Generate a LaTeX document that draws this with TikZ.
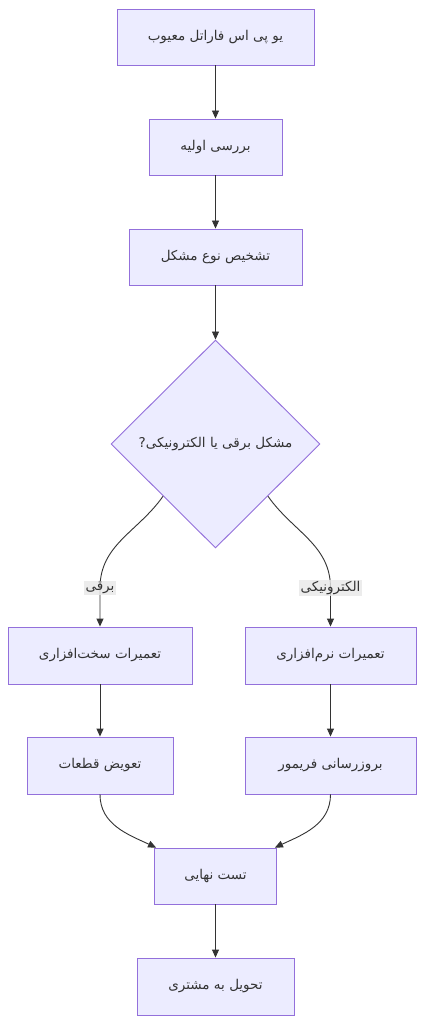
\documentclass[tikz,border=0pt]{standalone}
\usepackage{fontspec}
\newfontfamily\arabicfont[Script=Arabic]{DejaVu Sans}
\TeXXeTstate=1
\usetikzlibrary{arrows.meta}
\usetikzlibrary{shapes.geometric}

\definecolor{boxfill}{HTML}{ECECFF}
\definecolor{boxline}{HTML}{9370DB}
\definecolor{arrline}{HTML}{333333}
\definecolor{labfill}{HTML}{E8E8E8}

\newcommand{\fatext}[1]{\arabicfont\beginR #1\endR}

\begin{document}
\begin{tikzpicture}[x=1pt,y=-1pt,
    box/.style={draw=boxline,fill=boxfill,line width=0.9pt,minimum height=56pt,inner sep=0pt,text=arrline,font=\fontsize{13.5}{16}\selectfont},
    decide/.style={diamond,aspect=1,draw=boxline,fill=boxfill,line width=0.9pt,minimum width=209pt,minimum height=208pt,inner sep=0pt,text=arrline,font=\fontsize{13.5}{16}\selectfont},
    lab/.style={fill=labfill,fill opacity=0.8,text opacity=1,inner sep=1.5pt,text=arrline,font=\fontsize{13.5}{16}\selectfont},
    arr/.style={draw=arrline,line width=0.9pt,-{Triangle[length=8pt,width=7pt]}}]

    % page
    \fill[white] (0,0) rectangle (425,1024);
    \useasboundingbox (0,0) rectangle (425,1024);

    % main line
    \node[box,minimum width=197pt] (ups) at (215.5,37) {\fatext{یو پی اس فاراتل معیوب}};
    \node[box,minimum width=133pt] (check) at (215.5,147) {\fatext{بررسی اولیه}};
    \node[box,minimum width=173pt] (kind) at (215.5,257) {\fatext{تشخیص نوع مشکل}};
    \node[decide] (dec) at (215.5,444) {\fatext{مشکل برقی یا الکترونیکی?}};

    % two branches
    \node[box,minimum width=184pt,minimum height=57pt] (hw) at (100,655.5) {\fatext{تعمیرات سخت‌افزاری}};
    \node[box,minimum width=171pt,minimum height=57pt] (sw) at (330.5,655.5) {\fatext{تعمیرات نرم‌افزاری}};
    \node[box,minimum width=146pt,minimum height=57pt] (parts) at (100,765.5) {\fatext{تعویض قطعات}};
    \node[box,minimum width=171pt,minimum height=57pt] (fw) at (330.5,765.5) {\fatext{بروزرسانی فریمور}};

    % end
    \node[box,minimum width=122pt] (test) at (215.5,876) {\fatext{تست نهایی}};
    \node[box,minimum width=157pt,minimum height=57pt] (deliver) at (215.5,986.5) {\fatext{تحویل به مشتری}};

    % label points
    \coordinate (elec) at (100,588);
    \coordinate (tron) at (330.5,588);

    % arrows
    \draw[arr] (ups) -- (check);
    \draw[arr] (check) -- (kind);
    \draw[arr] (kind) -- (dec);
    \draw[arr] (dec.south west) to[out=-125,in=90] (elec) -- (hw);
    \draw[arr] (dec.south east) to[out=-55,in=90] (tron) -- (sw);
    \draw[arr] (hw) -- (parts);
    \draw[arr] (sw) -- (fw);
    \draw[arr] (parts.south) to[out=-90,in=155] ([xshift=2pt]test.north west);
    \draw[arr] (fw.south) to[out=-90,in=25] ([xshift=-2pt]test.north east);
    \draw[arr] (test) -- (deliver);

    % edge labels
    \node[lab] at (elec) {\fatext{برقی}};
    \node[lab] at (tron) {\fatext{الکترونیکی}};
\end{tikzpicture}
\end{document}
